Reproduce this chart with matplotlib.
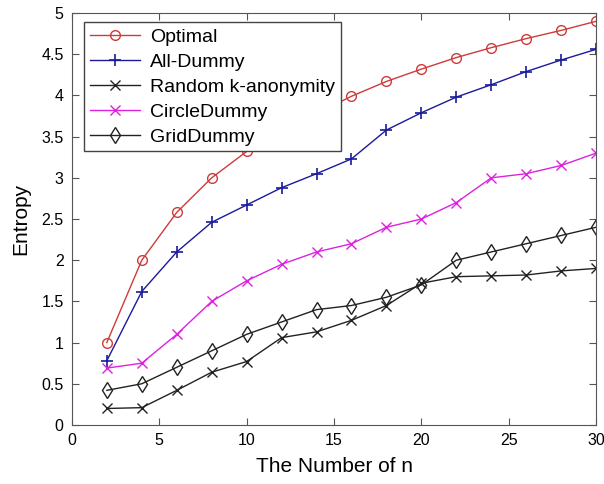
import matplotlib.pyplot as plt

plt.rcParams['font.family'] = ['Liberation Sans', 'DejaVu Sans']

# 数据
n = [2, 4, 6, 8, 10, 12, 14, 16, 18, 20, 22, 24, 26, 28, 30]
optimal = [1.0, 2.0, 2.58, 3.0, 3.32, 3.56, 3.78, 3.99, 4.17, 4.32, 4.46, 4.58, 4.69, 4.79, 4.90]
all_dummy = [0.78, 1.62, 2.1, 2.46, 2.67, 2.88, 3.05, 3.23, 3.58, 3.79, 3.98, 4.13, 4.29, 4.43, 4.56]
random_k = [0.2, 0.21, 0.42, 0.64, 0.77, 1.06, 1.13, 1.27, 1.45, 1.72, 1.8, 1.81, 1.82, 1.87, 1.9]
circle_dummy = [0.69, 0.75, 1.1, 1.5, 1.75, 1.95, 2.1, 2.2, 2.4, 2.5, 2.7, 3.0, 3.05, 3.15, 3.3]
grid_dummy = [0.42, 0.5, 0.7, 0.9, 1.1, 1.25, 1.4, 1.45, 1.55, 1.7, 2.0, 2.1, 2.2, 2.3, 2.4]

fig = plt.figure(figsize=(6.04, 4.84), dpi=100)
ax = fig.add_axes([0.119, 0.122, 0.868, 0.851])

ax.plot(n, optimal, color='#d03a3a', marker='o', mfc='none', ms=7, lw=1, label='Optimal')
ax.plot(n, all_dummy, color='#1a1a9a', marker='+', ms=9, mew=1.2, lw=1, label='All-Dummy')
ax.plot(n, random_k, color='#222222', marker='x', ms=7, lw=1, label='Random k-anonymity')
ax.plot(n, circle_dummy, color='#dd22dd', marker='x', ms=7, lw=1, label='CircleDummy')
ax.plot(n, grid_dummy, color='#222222', marker='d', mfc='none', ms=8, lw=1, label='GridDummy')

ax.set_xlim(0, 30)
ax.set_ylim(0, 5)
ax.set_xticks(range(0, 31, 5))
ax.set_yticks([0, 0.5, 1, 1.5, 2, 2.5, 3, 3.5, 4, 4.5, 5])
ax.set_yticklabels(['0', '0.5', '1', '1.5', '2', '2.5', '3', '3.5', '4', '4.5', '5'])
ax.tick_params(direction='in', top=True, right=True, labelsize=11.5, length=5, pad=6,
               color='#555555')
for s in ax.spines.values():
    s.set_color('#555555')

ax.set_xlabel('The Number of n', fontsize=15, labelpad=6)
ax.set_ylabel('Entropy', fontsize=15, labelpad=8)

leg = ax.legend(loc='upper left', fontsize=14, fancybox=False, framealpha=1,
                edgecolor='#444444', handlelength=2.6, borderpad=0.3, labelspacing=0.38,
                handletextpad=0.5, borderaxespad=0, bbox_to_anchor=(0.023, 0.978))

plt.savefig('out.png', dpi=100)
